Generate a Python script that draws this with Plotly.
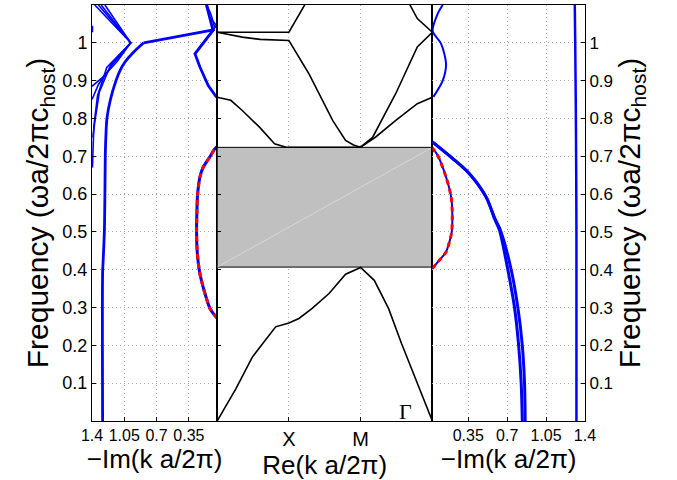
import plotly.graph_objects as go

# ---------------- data ----------------
freq_ticks = [0.1, 0.2, 0.3, 0.4, 0.5, 0.6, 0.7, 0.8, 0.9, 1.0]
freq_ticktext = ["0.1", "0.2", "0.3", "0.4", "0.5", "0.6", "0.7", "0.8", "0.9", "1"]
im_ticks = [0.35, 0.7, 1.05, 1.4]
im_ticktext = ["0.35", "0.7", "1.05", "1.4"]
path_ticks = [1, 2]
path_ticktext = ["X", "M"]

# photonic band gap (grey box)
gap_lo = 0.407
gap_hi = 0.7236

# middle panel: real band structure along Γ-X-M-Γ (path coordinate 0..3)
band1_x = [0, 0.26, 0.49, 0.815, 1.0, 1.14, 1.32, 1.56, 1.79, 2.0, 2.19, 2.39, 2.57, 3.0]
band1_y = [0, 0.085, 0.169, 0.249, 0.259, 0.271, 0.297, 0.337, 0.388, 0.406, 0.372, 0.297, 0.205, 0]
band2_x = [0, 0.19, 0.35, 0.59, 0.8, 0.96, 2.0, 2.21, 2.49, 2.79, 3.0]
band2_y = [0.856, 0.848, 0.821, 0.777, 0.733, 0.724, 0.724, 0.751, 0.795, 0.839, 0.856]
band3_x = [0, 0.35, 0.6, 1.0, 1.28, 1.61, 1.79, 1.9, 2.0]
band3_y = [1.028, 1.015, 1.009, 1.006, 0.918, 0.795, 0.742, 0.73, 0.724]
band4_x = [2.0, 2.17, 2.49, 2.79, 3.0]
band4_y = [0.724, 0.751, 0.866, 0.989, 1.028]
band5_x = [0, 1.0, 1.25]
band5_y = [1.028, 1.028, 1.11]
band6_x = [3.0, 2.79, 2.66]
band6_y = [1.028, 1.064, 1.11]

# left panel: -Im(k) of evanescent modes
thick_left_v = [1.285, 1.285, 1.278, 1.266, 1.26, 1.256, 1.25, 1.238, 1.2, 1.14, 1.09, 1.04, 0.95, 0.84]
thick_left_y = [0, 0.39, 0.43, 0.5, 0.6, 0.7, 0.75, 0.8, 0.85, 0.9, 0.93, 0.95, 0.975, 1.0]
jump_left_v = [0.84, 0.07]
jump_left_y = [1.0, 1.035]
thinA_v = [1.37, 0.98, 1.13, 1.28, 1.4]
thinA_y = [1.1, 1.0, 0.95, 0.91, 0.885]
thinB_v = [1.33, 0.98, 1.17, 1.33, 1.4]
thinB_y = [1.1, 1.0, 0.945, 0.89, 0.85]
thinC_v = [1.30, 0.98, 1.2, 1.32, 1.37, 1.39]
thinC_y = [1.1, 1.0, 0.94, 0.87, 0.79, 0.75]
thinD_v = [1.26, 0.98, 1.24, 1.34, 1.38, 1.395]
thinD_y = [1.1, 1.0, 0.935, 0.86, 0.78, 0.67]
dot_left_v = [1.395, 1.395]
dot_left_y = [1.028, 1.045]
zig1_v = [0.05, 0.14, 0.23, 0.284, 0.088, 0.124, 0.16]
zig1_y = [0.856, 0.887, 0.936, 0.971, 1.033, 1.068, 1.1]
zig2_v = [0.284, 0.052, 0.124, 0.15]
zig2_y = [0.971, 1.046, 1.068, 1.1]
zig3_v = [0.27, 0.07, 0.11, 0.155]
zig3_y = [0.975, 1.04, 1.075, 1.1]
gapmode_left_v = [0.044, 0.12, 0.17, 0.214, 0.238, 0.26, 0.266, 0.263, 0.255, 0.23, 0.195, 0.123, 0.068, 0.044]
gapmode_left_y = [0.272, 0.297, 0.333, 0.372, 0.4, 0.45, 0.5, 0.55, 0.6, 0.645, 0.671, 0.698, 0.72, 0.725]

# right panel: -Im(k) of evanescent modes
gapmode_right_v = [0.027, 0.075, 0.15, 0.18, 0.201, 0.206, 0.196, 0.15, 0.075, 0.027]
gapmode_right_y = [0.403, 0.42, 0.447, 0.473, 0.5, 0.55, 0.592, 0.645, 0.702, 0.722]
r1_v = [0.027, 0.21, 0.36, 0.511, 0.586, 0.631, 0.706, 0.766, 0.803, 0.826, 0.836]
r2_v = [0.027, 0.21, 0.36, 0.511, 0.59, 0.64, 0.736, 0.796, 0.836, 0.856, 0.862]
r_y = [0.738, 0.694, 0.654, 0.592, 0.535, 0.504, 0.4, 0.3, 0.2, 0.1, 0]
rv_v = [1.308, 1.312, 1.318, 1.323, 1.323]
rv_y = [1.1, 1.0, 0.8, 0.5, 0]
rw_v = [0.12, 0.075, 0.03, 0.105, 0.15, 0.12, 0.036]
rw_y = [1.1, 1.077, 1.031, 0.998, 0.945, 0.9, 0.857]

# ---------------- figure ----------------
BLUE = "#0000ff"
RED = "#ff0000"
FONT = "Liberation Sans"

fig = go.Figure()

def line(x, y, xa, ya, color=BLUE, width=3, dash="solid", shape="linear"):
    fig.add_trace(go.Scatter(x=x, y=y, xaxis=xa, yaxis=ya, mode="lines",
                             line=dict(color=color, width=width, dash=dash, shape=shape,
                                       smoothing=0.8 if shape == "spline" else None),
                             showlegend=False, hoverinfo="skip"))

# left panel
for v, y in [(thinA_v, thinA_y), (thinB_v, thinB_y), (thinC_v, thinC_y), (thinD_v, thinD_y),
             (dot_left_v, dot_left_y), (zig2_v, zig2_y), (zig3_v, zig3_y)]:
    line(v, y, "x", "y", width=1.6)
line(thick_left_v, thick_left_y, "x", "y", width=2.8, shape="spline")
line(jump_left_v, jump_left_y, "x", "y", width=2.8)
line(zig1_v, zig1_y, "x", "y", width=2.8)
line(gapmode_left_v, gapmode_left_y, "x", "y", width=3, shape="spline")
line(gapmode_left_v, gapmode_left_y, "x", "y", color=RED, width=3, dash="5px,4px", shape="spline")

# middle panel: gap box
fig.add_trace(go.Scatter(x=[0, 3, 3, 0, 0], y=[gap_lo, gap_lo, gap_hi, gap_hi, gap_lo],
                         xaxis="x2", yaxis="y2", mode="lines", fill="toself",
                         fillcolor="#c0c0c0", line=dict(color="black", width=1),
                         showlegend=False, hoverinfo="skip"))
line([0, 3], [gap_lo, gap_hi], "x2", "y2", color="#d6d6d6", width=1)
for bx, by in [(band1_x, band1_y), (band2_x, band2_y), (band3_x, band3_y),
               (band4_x, band4_y), (band5_x, band5_y), (band6_x, band6_y)]:
    line(bx, by, "x2", "y2", color="black", width=1.6)

# right panel
line(rv_v, rv_y, "x3", "y3", width=2.5, shape="spline")
line(rw_v, rw_y, "x3", "y3", width=2, shape="spline")
line(r1_v, r_y, "x3", "y3", width=3, shape="spline")
line(r2_v, r_y, "x3", "y3", width=3, shape="spline")
line(gapmode_right_v, gapmode_right_y, "x3", "y3", width=2, shape="spline")
line(gapmode_right_v, gapmode_right_y, "x3", "y3", color=RED, width=3, dash="5px,4px", shape="spline")

d1 = 0.2539
d2 = 0.6904
grid = dict(showgrid=True, gridcolor="#a8a8a8", griddash="1px,3px", gridwidth=1)
frame = dict(showline=True, linecolor="black", linewidth=1, mirror=True,
             ticks="inside", ticklen=4, tickcolor="black", zeroline=False)
tickf = dict(family=FONT, size=16, color="black")
ytitle = "Frequency (\u03c9a/2\u03c0c<sub>host</sub>)"
imtitle = "\u2212Im(k a/2\u03c0)"

fig.update_layout(
    width=677, height=480,
    margin=dict(l=92, r=91.5, t=5, b=59),
    paper_bgcolor="white", plot_bgcolor="white",
    font=dict(family=FONT, color="black"),
    xaxis=dict(domain=[0, d1], range=[1.4, 0.043], tickvals=im_ticks, ticktext=im_ticktext,
               tickfont=tickf, title=dict(text=imtitle, font=dict(size=26), standoff=2),
               anchor="y", **grid, **frame),
    yaxis=dict(domain=[0, 1], range=[0, 1.1], tickvals=freq_ticks, ticktext=freq_ticktext,
               tickfont=dict(family=FONT, size=18, color="black"), anchor="x",
               title=dict(text=ytitle, font=dict(size=30), standoff=4),
               **grid, **frame),
    xaxis2=dict(domain=[d1, d2], range=[0, 3], tickvals=path_ticks, ticktext=path_ticktext,
                tickfont=dict(family=FONT, size=20, color="black"),
                title=dict(text="Re(k a/2\u03c0)", font=dict(size=26), standoff=0),
                anchor="y2", **grid, **frame),
    yaxis2=dict(domain=[0, 1], range=[0, 1.1], tickvals=freq_ticks, showticklabels=False,
                showgrid=False, anchor="x2", **frame),
    xaxis3=dict(domain=[d2, 1], range=[0.027, 1.4], tickvals=im_ticks, ticktext=im_ticktext,
                tickfont=tickf, title=dict(text=imtitle, font=dict(size=26), standoff=2),
                anchor="y3", **grid, **frame),
    yaxis3=dict(domain=[0, 1], range=[0, 1.1], tickvals=freq_ticks, ticktext=freq_ticktext,
                tickfont=dict(family=FONT, size=17, color="black"), side="right", anchor="x3",
                title=dict(text=ytitle, font=dict(size=30), standoff=4),
                **grid, **frame),
    annotations=[dict(text="\u0393", x=2.63, y=0.024, xref="x2", yref="y2", showarrow=False,
                      font=dict(family="Liberation Serif", size=22, color="black"),
                      xanchor="center", yanchor="middle")],
)

fig.write_html("out.html")
